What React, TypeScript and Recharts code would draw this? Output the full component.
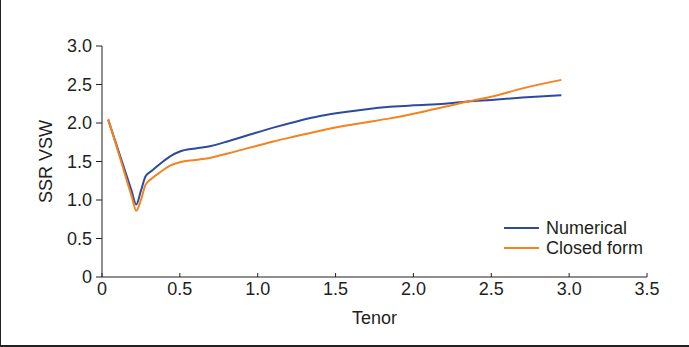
import { LineChart, Line, XAxis, YAxis } from "recharts";

const tenor = [0.04, 0.12, 0.19, 0.22, 0.25, 0.28, 0.32, 0.38, 0.44, 0.5, 0.6, 0.7, 0.82, 0.95, 1.1, 1.25, 1.4, 1.55, 1.7, 1.85, 2.0, 2.2, 2.35, 2.5, 2.7, 2.95];
const numerical = [2.04, 1.55, 1.12, 0.94, 1.12, 1.31, 1.38, 1.48, 1.57, 1.63, 1.67, 1.7, 1.77, 1.85, 1.94, 2.02, 2.09, 2.14, 2.18, 2.21, 2.23, 2.25, 2.28, 2.3, 2.33, 2.36];
const closedForm = [2.05, 1.52, 1.05, 0.86, 1.0, 1.2, 1.28, 1.37, 1.45, 1.49, 1.52, 1.55, 1.61, 1.68, 1.76, 1.83, 1.9, 1.96, 2.01, 2.06, 2.12, 2.21, 2.28, 2.34, 2.45, 2.56];
const xTicks = [0, 0.5, 1.0, 1.5, 2.0, 2.5, 3.0, 3.5];
const yTicks = [0, 0.5, 1.0, 1.5, 2.0, 2.5, 3.0];

const data = tenor.map((t, i) => ({ tenor: t, numerical: numerical[i], closed: closedForm[i] }));

const BLUE = "#2e4a9e";
const ORANGE = "#f5821f";
const INK = "#231f20";
const font = "'Liberation Sans', Arial, sans-serif";

const series = [
  { key: "numerical", name: "Numerical", color: BLUE },
  { key: "closed", name: "Closed form", color: ORANGE },
];

const fmt = (v: number) => (v === 0 ? "0" : v.toFixed(1));
const tickStyle = { fill: INK, fontSize: 18, fontFamily: font };

export default function App() {
  return (
    <div
      style={{
        position: "absolute",
        left: 0,
        top: 0,
        width: 689,
        height: 347,
        boxSizing: "border-box",
        borderLeft: "1.5px solid #222",
        borderBottom: "2px solid #222",
        background: "#fff",
      }}
    >
      <div style={{ position: "absolute", left: -1.5, top: 0 }}>
        <LineChart width={689} height={347} data={data} margin={{ top: 46, right: 42, bottom: 20, left: 42 }}>
          <XAxis
            dataKey="tenor"
            type="number"
            domain={[0, 3.5]}
            ticks={xTicks}
            tickFormatter={fmt}
            height={50}
            stroke={INK}
            tickSize={-4}
            tickMargin={9}
            tick={tickStyle}
            label={{ value: "Tenor", position: "insideBottom", offset: 3, ...tickStyle }}
          />
          <YAxis
            type="number"
            domain={[0, 3]}
            ticks={yTicks}
            tickFormatter={fmt}
            width={60}
            stroke={INK}
            tickSize={6}
            tickMargin={4}
            tick={tickStyle}
            label={{ value: "SSR VSW", angle: -90, position: "insideLeft", offset: 0, dx: 4, ...tickStyle, style: { textAnchor: "middle" } }}
          />
          {series.map((s) => (
            <Line key={s.key} type="monotone" dataKey={s.key} name={s.name} stroke={s.color} strokeWidth={2} dot={false} isAnimationActive={false} />
          ))}
        </LineChart>
      </div>
      <div style={{ position: "absolute", left: 503, top: 218, fontFamily: font, fontSize: 18, color: INK, lineHeight: "20px" }}>
        {series.map((s) => (
          <div key={s.key} style={{ display: "flex", alignItems: "center" }}>
            <span style={{ display: "inline-block", width: 35, height: 2, background: s.color, marginRight: 7 }} />
            <span>{s.name}</span>
          </div>
        ))}
      </div>
    </div>
  );
}
